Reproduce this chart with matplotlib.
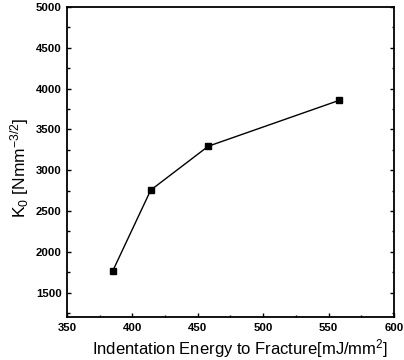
import matplotlib
matplotlib.use("Agg")
import matplotlib.pyplot as plt
from matplotlib.ticker import MultipleLocator

energy = [385, 414, 458, 558]
k0 = [1768, 2756, 3293, 3854]
xticks = [350, 400, 450, 500, 550, 600]
yticks = [1500, 2000, 2500, 3000, 3500, 4000, 4500, 5000]

plt.rcParams['font.family'] = ['Liberation Sans', 'DejaVu Sans']
plt.rcParams['mathtext.fontset'] = 'custom'
plt.rcParams['mathtext.rm'] = 'Liberation Sans'
plt.rcParams['mathtext.it'] = 'Liberation Sans'

fig = plt.figure(figsize=(4.04, 3.6), dpi=100)
ax = fig.add_axes([0.166, 0.119, 0.809, 0.862])
ax.plot(energy, k0, color='black', lw=1.0, marker='s', ms=4.5, mfc='black', mec='black')
ax.set_xlim(350, 600)
ax.set_ylim(1200, 5000)
ax.set_xticks(xticks)
ax.set_yticks(yticks)
ax.xaxis.set_minor_locator(MultipleLocator(25))
ax.yaxis.set_minor_locator(MultipleLocator(250))
ax.tick_params(which='both', direction='in', right=True, top=False, labelsize=8.2, width=1)
ax.tick_params(which='major', length=3, pad=4)
ax.tick_params(which='minor', length=1.8)
for lab in ax.get_xticklabels() + ax.get_yticklabels():
    lab.set_fontweight('bold')
for s in ax.spines.values():
    s.set_linewidth(1.3)
ax.set_xlabel('Indentation Energy to Fracture[mJ/mm$^2$]', fontsize=12)
ax.set_ylabel('K$_0$ [Nmm$^{-3/2}$]', fontsize=12.5)
ax.xaxis.set_label_coords(0.53, -0.065)
ax.yaxis.set_label_coords(-0.11, 0.48)
fig.savefig('out.png', dpi=100)
